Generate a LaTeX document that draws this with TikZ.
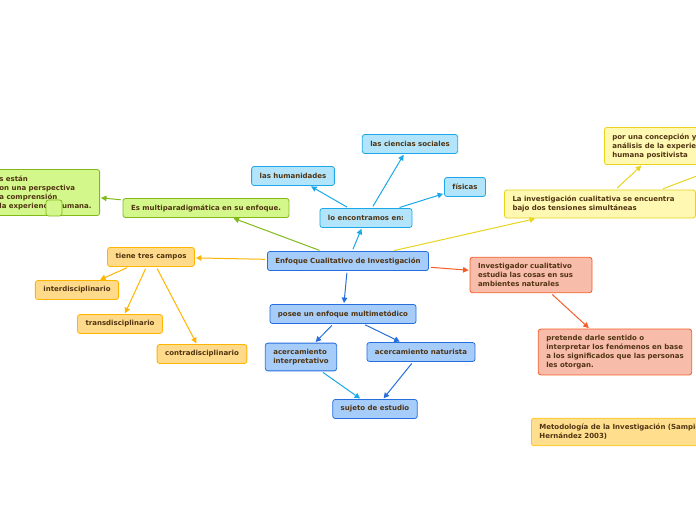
\documentclass[tikz,border=0pt]{standalone}
\usepackage{fontspec}
\setmainfont{DejaVu Sans}
\usepackage{tikz}
\usetikzlibrary{positioning,arrows.meta}
\usepackage{xcolor}
\definecolor{texto}{RGB}{80,52,18}
\definecolor{azulF}{RGB}{166,204,250}
\definecolor{azulB}{RGB}{38,110,222}
\definecolor{cianF}{RGB}{178,229,252}
\definecolor{cianB}{RGB}{27,168,232}
\definecolor{verdeF}{RGB}{212,247,140}
\definecolor{verdeB}{RGB}{128,185,24}
\definecolor{ambarF}{RGB}{255,218,138}
\definecolor{ambarB}{RGB}{255,180,0}
\definecolor{amarF}{RGB}{255,248,178}
\definecolor{amarB}{RGB}{232,212,30}
\definecolor{salmonF}{RGB}{248,188,170}
\definecolor{salmonB}{RGB}{244,92,40}
\definecolor{metoF}{RGB}{255,222,142}
\definecolor{metoB}{RGB}{255,196,20}

\tikzset{
  caja/.style={draw, rounded corners=2.5pt, line width=0.8pt, text=texto,
    font=\fontsize{7}{9}\selectfont\bfseries, inner xsep=8pt, inner ysep=6pt,
    minimum height=19pt, align=left},
  azul/.style={caja, fill=azulF, draw=azulB},
  cian/.style={caja, fill=cianF, draw=cianB},
  verde/.style={caja, fill=verdeF, draw=verdeB},
  ambar/.style={caja, fill=ambarF, draw=ambarB},
  amar/.style={caja, fill=amarF, draw=amarB},
  salmon/.style={caja, fill=salmonF, draw=salmonB},
  meto/.style={caja, fill=metoF, draw=metoB},
  flecha/.style={-{Triangle[length=5.5pt,width=5.5pt]}, line width=1pt,
    shorten <=2pt, shorten >=1pt},
}

\begin{document}
\begin{tikzpicture}[x=1pt,y=-1pt]
\useasboundingbox (0,0) rectangle (696,520);
\clip (0,0) rectangle (696,520);

%====================================================
% NODO CENTRAL
%====================================================
\node[azul] (central) at (348,261) {Enfoque Cualitativo de Investigación};

%====================================================
% RAMA: LO ENCONTRAMOS EN
%====================================================
\node[cian] (encontramos) at (366,218) {lo encontramos en:};
\node[cian] (humanidades) at (293,176) {las humanidades};
\node[cian] (ciencias) at (410,144) {las ciencias sociales};
\node[cian] (fisicas) at (465,187) {físicas};

%====================================================
% RAMA: MULTIPARADIGMATICA
%====================================================
\node[verde] (multi) at (206,208) {Es multiparadigmática en su enfoque.};
\node[verde, anchor=east] (paradigmas) at (100,192.5)
  {s están\\on una perspectiva\\a comprensión\\la experiencia humana.};
\node[verde, minimum width=16pt, minimum height=16pt, inner sep=0pt] (cuadro) at (54,208) {};

%====================================================
% RAMA: TRES CAMPOS
%====================================================
\node[ambar] (campos) at (151,257) {tiene tres campos};
\node[ambar] (inter) at (77,290) {interdisciplinario};
\node[ambar] (trans) at (120,324) {transdisciplinario};
\node[ambar] (contra) at (202,354) {contradisciplinario};

%====================================================
% RAMA: MULTIMETODICO
%====================================================
\node[azul] (multimetodo) at (343,314) {posee un enfoque multimetódico};
\node[azul] (interp) at (301,357) {acercamiento\\interpretativo};
\node[azul] (naturista) at (421,352) {acercamiento naturista};
\node[azul] (sujeto) at (375,409) {sujeto de estudio};

%====================================================
% RAMA: INVESTIGADOR
%====================================================
\node[salmon, text width=106pt] (investigador) at (531,275)
  {Investigador cualitativo\\estudia las cosas en sus\\ambientes naturales};
\node[salmon] (sentido) at (615,352)
  {pretende darle sentido o\\interpretar los fenómenos en base\\a los significados que las personas\\les otorgan.};

%====================================================
% RAMA: TENSIONES
%====================================================
\node[amar, text width=175pt] (tension) at (600,204)
  {La investigación cualitativa se encuentra\\bajo dos tensiones simultáneas};
\node[amar, anchor=west] (concepcion) at (604,146)
  {por una concepción y\\análisis de la experiencia\\humana positivista};
\coordinate (fuera) at (760,152);

%====================================================
% REFERENCIA
%====================================================
\node[meto, anchor=west] (metodologia) at (531,432)
  {Metodología de la Investigación (Sampieri\\Hernández 2003)};

%====================================================
% CONECTORES
%====================================================
\draw[flecha, cianB] (central) -- (encontramos);
\draw[flecha, cianB] (encontramos) -- (humanidades);
\draw[flecha, cianB] (encontramos) -- (ciencias);
\draw[flecha, cianB] (encontramos) -- (fisicas);

\draw[flecha, verdeB] (central) -- (multi);
\draw[flecha, verdeB] (multi) -- (paradigmas);

\draw[flecha, ambarB] (central) -- (campos);
\draw[flecha, ambarB] (campos) -- (inter);
\draw[flecha, ambarB] (campos) -- (trans);
\draw[flecha, ambarB] (campos) -- (contra);

\draw[flecha, azulB] (central) -- (multimetodo);
\draw[flecha, azulB] (multimetodo) -- (interp);
\draw[flecha, azulB] (multimetodo) -- (naturista);
\draw[flecha, cianB] (interp) -- (sujeto);
\draw[flecha, azulB] (naturista) -- (sujeto);

\draw[flecha, salmonB] (central) -- (investigador);
\draw[flecha, salmonB] (investigador) -- (sentido);

\draw[flecha, amarB] (central) -- (tension);
\draw[flecha, amarB] (tension) -- (concepcion);
\draw[flecha, amarB] ([xshift=61pt]tension.north) -- (fuera);
\end{tikzpicture}
\end{document}
